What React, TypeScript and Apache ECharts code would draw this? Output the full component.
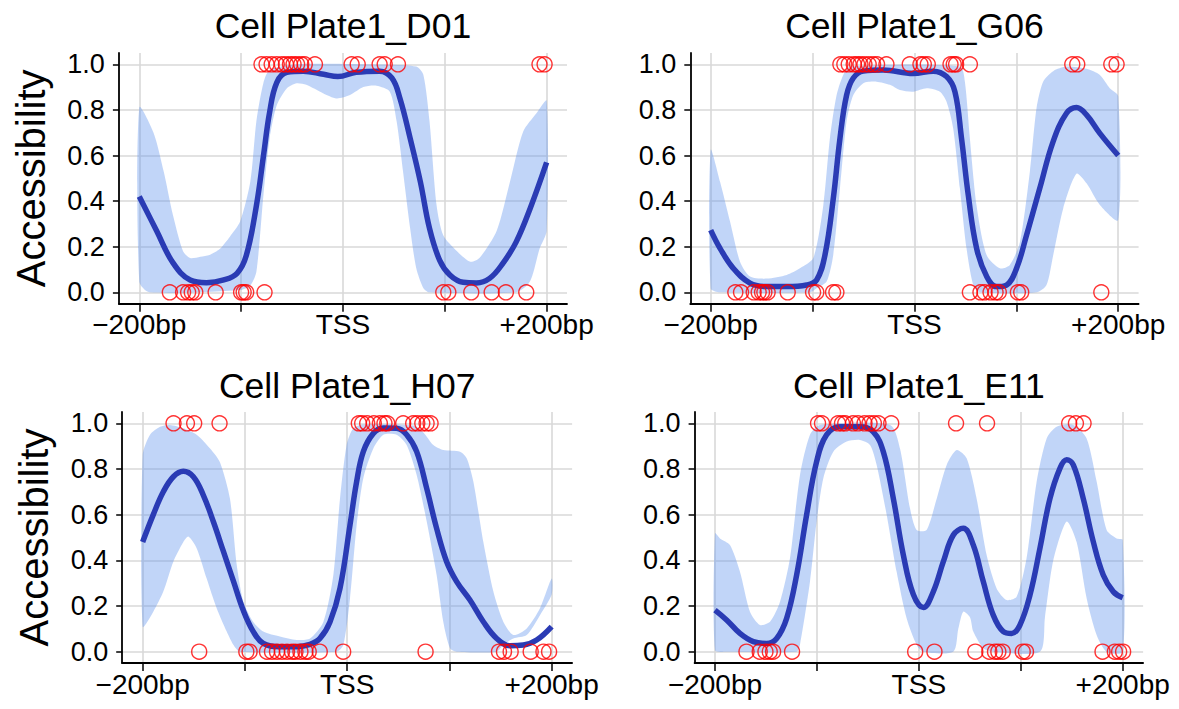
import React, { useEffect, useRef } from 'react';
import * as echarts from 'echarts';

const titles = ['Cell Plate1_D01', 'Cell Plate1_G06', 'Cell Plate1_H07', 'Cell Plate1_E11'];
const xTickValues = [-200, -100, 0, 100, 200];
const xLabelValues = [-200, 0, 200];
const xLabelText: Record<string, string> = { '-200': '−200bp', '0': 'TSS', '200': '+200bp' };
const yTickValues = [0, 0.2, 0.4, 0.6, 0.8, 1.0];
const yAxisTitle = 'Accessibility';

// ---- Cell Plate1_D01 ----
const d01Ones = [-80, -75, -70, -65, -60, -56, -52, -48.5, -45, -41, -37.5, -27.5, 8.5, 14.5, 36, 41, 54, 193, 198];
const d01Zeros = [-170, -157, -152, -148.5, -145, -125, -100, -97.5, -95, -77, 98.5, 103.5, 126, 146, 160, 180];
const d01Curve = [[-200, 0.42], [-183, 0.27], [-167, 0.13], [-150, 0.054], [-134, 0.042], [-117, 0.054], [-104, 0.083], [-95, 0.16], [-85, 0.38], [-78, 0.6], [-72, 0.79], [-65, 0.92], [-55, 0.965], [-39, 0.97], [-19, 0.956], [-5, 0.946], [13, 0.965], [36, 0.97], [48, 0.94], [56, 0.85], [66, 0.675], [76, 0.485], [85, 0.28], [95, 0.14], [105, 0.076], [118, 0.044], [131, 0.041], [144, 0.061], [157, 0.127], [170, 0.22], [184, 0.37], [200, 0.57]];
const d01Upper = [[-200, 0.81], [-186, 0.7], [-176, 0.53], [-167, 0.34], [-157, 0.18], [-150, 0.15], [-140, 0.156], [-131, 0.164], [-121, 0.19], [-111, 0.244], [-101, 0.31], [-91, 0.485], [-85, 0.75], [-78, 0.92], [-72, 0.975], [-45, 1.0], [20, 1.0], [72, 0.99], [79, 0.953], [85, 0.75], [92, 0.38], [98.5, 0.25], [112, 0.18], [125, 0.134], [134, 0.15], [151, 0.27], [164, 0.485], [177, 0.705], [190, 0.785], [200, 0.84]];
const d01Lower = [[-200, 0.047], [-190, 0.0], [-101, 0.01], [-91, 0.03], [-85, 0.09], [-78, 0.43], [-72, 0.675], [-65, 0.82], [-55, 0.895], [-45.5, 0.917], [-36, 0.91], [-19.6, 0.873], [-6.3, 0.85], [6.9, 0.865], [20, 0.9], [33, 0.906], [46, 0.88], [52.7, 0.75], [59, 0.53], [66, 0.28], [72, 0.105], [79, 0.018], [85, 0.0], [170, 0.0], [183.6, 0.047], [193, 0.19], [200, 0.27]];

// ---- Cell Plate1_G06 ----
const g06Ones = [-72.7, -68.8, -64.5, -59.6, -56.3, -53, -49.1, -44.9, -40.6, -36.7, -27.5, -4.6, 5.9, 9.2, 13.1, 35.4, 38.6, 40.9, 54.4, 154.9, 159.8, 193.2, 198.4];
const g06Zeros = [-175.8, -170.2, -157.8, -152.9, -149.6, -147.3, -144.1, -124.4, -99.5, -96.3, -79.9, -76.6, 54.4, 64.8, 68.8, 74.7, 79.6, 82.8, 101.5, 104.8, 183.4];
const g06Curve = [[-200, 0.273], [-190.8, 0.193], [-177.8, 0.105], [-161.4, 0.04], [-145, 0.025], [-125.4, 0.025], [-105.8, 0.032], [-96, 0.054], [-87.8, 0.164], [-79.7, 0.41], [-73.1, 0.675], [-66.6, 0.865], [-60, 0.94], [-50.2, 0.97], [-30.6, 0.975], [-1.2, 0.96], [18.4, 0.97], [31.5, 0.946], [39.7, 0.88], [46.2, 0.675], [52.8, 0.427], [61, 0.193], [70.8, 0.07], [80.6, 0.025], [90.4, 0.032], [100.2, 0.105], [110, 0.25], [123, 0.456], [136, 0.66], [149.2, 0.785], [159, 0.81], [168.9, 0.778], [182, 0.697], [200, 0.6]];
const g06Upper = [[-200, 0.624], [-190.8, 0.485], [-181, 0.31], [-171.2, 0.134], [-161.4, 0.069], [-145, 0.06], [-125.4, 0.076], [-112.4, 0.105], [-99.3, 0.15], [-89.5, 0.38], [-83, 0.675], [-76.4, 0.865], [-69.9, 0.953], [-63.3, 0.99], [44.6, 0.99], [49.5, 0.924], [54.4, 0.675], [61, 0.38], [70.8, 0.164], [83.8, 0.105], [93.6, 0.12], [103.5, 0.22], [113.3, 0.53], [119.8, 0.807], [126.3, 0.924], [136.2, 0.97], [149.2, 0.99], [168.9, 0.98], [182, 0.953], [191.7, 0.895], [200, 0.86]];
const g06Lower = [[-200, 0.018], [-190.8, 0.0], [-102.6, 0.0], [-96, 0.018], [-86.2, 0.047], [-79.7, 0.164], [-73.1, 0.456], [-66.6, 0.75], [-60, 0.865], [-50.2, 0.917], [-37.2, 0.924], [-24.1, 0.91], [-14.3, 0.887], [-1.2, 0.88], [12, 0.895], [25, 0.88], [31.5, 0.836], [38, 0.72], [44.6, 0.456], [51.1, 0.193], [57.7, 0.032], [64.2, 0.0], [119.8, 0.0], [129.6, 0.032], [136.2, 0.164], [146, 0.368], [159, 0.52], [168.9, 0.478], [182, 0.383], [200, 0.317]];

// ---- Cell Plate1_H07 ----
const h07Ones = [-169.8, -156.7, -149.6, -124.8, 11.4, 14.7, 19.6, 26.1, 32, 36.5, 39.2, 54.8, 64.6, 68.6, 73.5, 77.7, 81.6];
const h07Zeros = [-144.7, -98.6, -95.4, -78.4, -73.5, -68.6, -63.7, -58.8, -53.9, -50.6, -45.7, -40.8, -37.6, -26.8, -3.9, 76.7, 148.5, 153.4, 159.9, 179.5, 192, 197.5];
const h07Curve = [[-200, 0.48], [-189.6, 0.6], [-179.8, 0.7], [-170, 0.766], [-160.2, 0.79], [-150.4, 0.766], [-140.7, 0.686], [-130.9, 0.57], [-121.1, 0.44], [-111.3, 0.31], [-101.5, 0.18], [-91.8, 0.088], [-82, 0.036], [-65.7, 0.022], [-49.4, 0.022], [-36.3, 0.032], [-26.6, 0.058], [-16.8, 0.13], [-7, 0.277], [2.8, 0.555], [9.3, 0.745], [15.8, 0.876], [25.6, 0.956], [35.4, 0.98], [48.4, 0.978], [58.2, 0.95], [68, 0.876], [77.8, 0.715], [87.5, 0.54], [97.3, 0.394], [107.1, 0.307], [120.1, 0.226], [133.2, 0.131], [146.2, 0.058], [159.3, 0.026], [172.3, 0.029], [185.3, 0.051], [200, 0.11]];
const h07Upper = [[-200, 0.86], [-192.8, 0.95], [-183, 0.985], [-173.3, 0.993], [-160.2, 0.978], [-147.2, 0.95], [-134.1, 0.89], [-124.4, 0.83], [-114.6, 0.67], [-108, 0.38], [-101.5, 0.22], [-91.8, 0.13], [-82, 0.088], [-65.7, 0.066], [-49.4, 0.051], [-36.3, 0.058], [-23.3, 0.13], [-13.5, 0.336], [-7, 0.67], [-0.5, 0.905], [6, 0.978], [15.8, 0.995], [64.7, 0.99], [74.5, 0.96], [84.3, 0.905], [94, 0.883], [110.4, 0.876], [116.9, 0.847], [123.4, 0.745], [133.2, 0.48], [143, 0.263], [152.7, 0.131], [162.5, 0.073], [175.6, 0.102], [188.6, 0.19], [200, 0.32]];
const h07Lower = [[-200, 0.11], [-189.6, 0.175], [-179.8, 0.263], [-170, 0.394], [-160.2, 0.48], [-155.3, 0.504], [-147.2, 0.453], [-137.4, 0.32], [-127.6, 0.19], [-117.8, 0.088], [-111.3, 0.03], [-104.8, 0.0], [-10.3, 0.0], [-3.7, 0.03], [2.8, 0.234], [9.3, 0.555], [15.8, 0.76], [25.6, 0.89], [35.4, 0.95], [48.4, 0.95], [58.2, 0.905], [68, 0.774], [77.8, 0.57], [87.5, 0.336], [94, 0.131], [100.6, 0.015], [107.1, 0.0], [146.2, 0.0], [152.7, 0.03], [162.5, 0.058], [175.6, 0.073], [188.6, 0.16], [200, 0.25]];

// ---- Cell Plate1_E11 ----
const e11Ones = [-98.9, -95, -79.3, -75.4, -72.2, -64.6, -59.7, -53.3, -48.4, -44.1, -39.6, -27.1, 36.5, 66.9, 147.5, 154.1, 161.6];
const e11Zeros = [-169.1, -156.1, -150.5, -146.3, -143, -124.4, -3.6, 15.3, 55.4, 69.1, 74.7, 78, 82.3, 101.9, 105.1, 180.2, 192.3, 196.5, 200.4];
const e11Curve = [[-200, 0.182], [-188.6, 0.139], [-175.5, 0.08], [-162.4, 0.044], [-149.3, 0.036], [-139.5, 0.058], [-129.7, 0.146], [-119.9, 0.336], [-110.1, 0.6], [-100.3, 0.832], [-90.5, 0.95], [-77.4, 0.985], [-57.8, 0.985], [-44.7, 0.963], [-34.9, 0.876], [-25, 0.67], [-15.2, 0.423], [-5.4, 0.25], [4.4, 0.193], [14.2, 0.263], [24, 0.394], [33.8, 0.511], [43.6, 0.54], [53.4, 0.467], [63.2, 0.307], [73, 0.16], [82.9, 0.088], [91, 0.08], [99.2, 0.117], [109, 0.248], [118.8, 0.453], [128.6, 0.67], [138.4, 0.803], [145, 0.84], [151.5, 0.818], [161.3, 0.67], [171.1, 0.482], [180.9, 0.336], [190.7, 0.263], [200, 0.236]];
const e11Upper = [[-200, 0.518], [-195.1, 0.496], [-185.3, 0.467], [-175.5, 0.35], [-165.7, 0.175], [-155.9, 0.117], [-146, 0.131], [-136.2, 0.219], [-126.4, 0.41], [-116.6, 0.774], [-106.8, 0.95], [-97, 0.993], [-28.3, 0.993], [-18.5, 0.89], [-8.7, 0.628], [-2.2, 0.533], [7.6, 0.533], [17.5, 0.67], [27.3, 0.818], [37.1, 0.883], [46.9, 0.847], [56.7, 0.67], [66.5, 0.423], [76.3, 0.277], [86.1, 0.226], [95.9, 0.24], [105.7, 0.41], [115.6, 0.745], [125.4, 0.934], [135.2, 0.985], [151.5, 0.993], [164.6, 0.934], [174.4, 0.745], [184.2, 0.533], [194, 0.496], [200, 0.49]];
const e11Lower = [[-200, 0.007], [-188.6, 0.0], [-119.9, 0.0], [-116.6, 0.03], [-106.8, 0.307], [-100.3, 0.57], [-93.7, 0.76], [-83.9, 0.876], [-70.8, 0.92], [-57.8, 0.927], [-47.9, 0.905], [-41.4, 0.818], [-31.6, 0.6], [-21.8, 0.35], [-12, 0.146], [-2.2, 0.03], [4.4, 0.0], [33.8, 0.0], [38.7, 0.1], [43.6, 0.175], [50.2, 0.15], [53.4, 0.088], [63.2, 0.015], [73, 0.0], [118.8, 0.0], [123.7, 0.15], [131.9, 0.4], [145, 0.57], [154.8, 0.48], [164.6, 0.234], [174.4, 0.073], [184.2, 0.0], [200, 0.0]];

const panels = [
  { title: titles[0], ones: d01Ones, zeros: d01Zeros, curve: d01Curve, upper: d01Upper, lower: d01Lower },
  { title: titles[1], ones: g06Ones, zeros: g06Zeros, curve: g06Curve, upper: g06Upper, lower: g06Lower },
  { title: titles[2], ones: h07Ones, zeros: h07Zeros, curve: h07Curve, upper: h07Upper, lower: h07Lower },
  { title: titles[3], ones: e11Ones, zeros: e11Zeros, curve: e11Curve, upper: e11Upper, lower: e11Lower },
];

const gridBoxes = [
  { left: 118.9, top: 52.9, width: 448.1, height: 250.8 },
  { left: 690.3, top: 52.9, width: 448.3, height: 250.8 },
  { left: 122.2, top: 411.9, width: 449.9, height: 251.2 },
  { left: 694.6, top: 411.9, width: 448.5, height: 251.2 },
];
const titleY = [26, 386];

const FONT = '"Liberation Sans", Arial, Helvetica, sans-serif';
const LINE_COLOR = '#2a3bb4';
const BAND_COLOR = 'rgba(100,149,237,0.4)';
const GRID_COLOR = '#d9d9d9';

export default function App() {
  const ref = useRef<HTMLDivElement>(null);
  useEffect(() => {
    if (!ref.current) return;
    const chart = echarts.init(ref.current, undefined, { renderer: 'svg' });

    const grid: any[] = [];
    const xAxis: any[] = [];
    const yAxis: any[] = [];
    const series: any[] = [];
    const graphic: any[] = [];

    panels.forEach((p, i) => {
      const g = gridBoxes[i];
      grid.push({ left: g.left, top: g.top, width: g.width, height: g.height, containLabel: false });
      xAxis.push({
        gridIndex: i,
        type: 'value',
        min: -220,
        max: 220,
        axisLine: { show: true, onZero: false, lineStyle: { color: '#000', width: 1.8 } },
        axisTick: { show: true, customValues: xTickValues, length: 8, lineStyle: { color: '#000', width: 1.5 } },
        axisLabel: {
          customValues: xLabelValues,
          formatter: (v: number) => xLabelText[String(Math.round(v))] ?? '',
          fontSize: 28,
          color: '#000',
          fontFamily: FONT,
          margin: 7,
        },
        splitLine: { show: true, lineStyle: { color: GRID_COLOR, width: 1.6 } },
      });
      yAxis.push({
        gridIndex: i,
        type: 'value',
        min: -0.05,
        max: 1.05,
        name: i % 2 === 0 ? yAxisTitle : '',
        nameLocation: 'middle',
        nameRotate: 90,
        nameGap: 68,
        nameTextStyle: { fontSize: 40, color: '#000', fontFamily: FONT },
        axisLine: { show: true, onZero: false, lineStyle: { color: '#000', width: 1.8 } },
        axisTick: { show: true, customValues: yTickValues, length: 6, lineStyle: { color: '#000', width: 1.5 } },
        axisLabel: {
          customValues: yTickValues,
          formatter: (v: number) => v.toFixed(1),
          fontSize: 27,
          color: '#000',
          fontFamily: FONT,
          margin: 14,
        },
        splitLine: { show: true, lineStyle: { color: GRID_COLOR, width: 1.6 } },
      });

      const upper = p.upper;
      const lower = p.lower;
      series.push({
        type: 'custom',
        xAxisIndex: i,
        yAxisIndex: i,
        silent: true,
        z: 1,
        data: [[0, 0.5]],
        renderItem: (_params: any, api: any) => {
          const pts = [
            ...upper.map((pt) => api.coord(pt)),
            ...lower.slice().reverse().map((pt) => api.coord(pt)),
          ];
          return {
            type: 'polygon',
            shape: { points: pts, smooth: 0.25 },
            style: { fill: BAND_COLOR, stroke: 'none' },
          };
        },
      });
      series.push({
        type: 'line',
        xAxisIndex: i,
        yAxisIndex: i,
        data: p.curve,
        smooth: 0.4,
        showSymbol: false,
        silent: true,
        z: 3,
        lineStyle: { color: LINE_COLOR, width: 5.5 },
      });
      const pts = [...p.ones.map((x) => [x, 1]), ...p.zeros.map((x) => [x, 0])];
      series.push({
        type: 'scatter',
        xAxisIndex: i,
        yAxisIndex: i,
        data: pts,
        symbol: 'circle',
        symbolSize: 15,
        silent: true,
        z: 4,
        itemStyle: { color: 'rgba(0,0,0,0)', borderColor: '#ff0000', borderWidth: 1.4 },
      });

      graphic.push({
        type: 'text',
        x: g.left + g.width / 2,
        y: titleY[Math.floor(i / 2)],
        style: {
          text: p.title,
          fontSize: 35.5,
          fontFamily: FONT,
          fill: '#000',
          textAlign: 'center',
          textVerticalAlign: 'middle',
        },
      });
    });

    chart.setOption({
      animation: false,
      backgroundColor: '#fff',
      grid,
      xAxis,
      yAxis,
      series,
      graphic,
    });
    return () => chart.dispose();
  }, []);
  return (
    <div
      ref={ref}
      style={{ position: 'fixed', left: 0, top: 0, width: 1179, height: 709, background: '#fff' }}
    />
  );
}
